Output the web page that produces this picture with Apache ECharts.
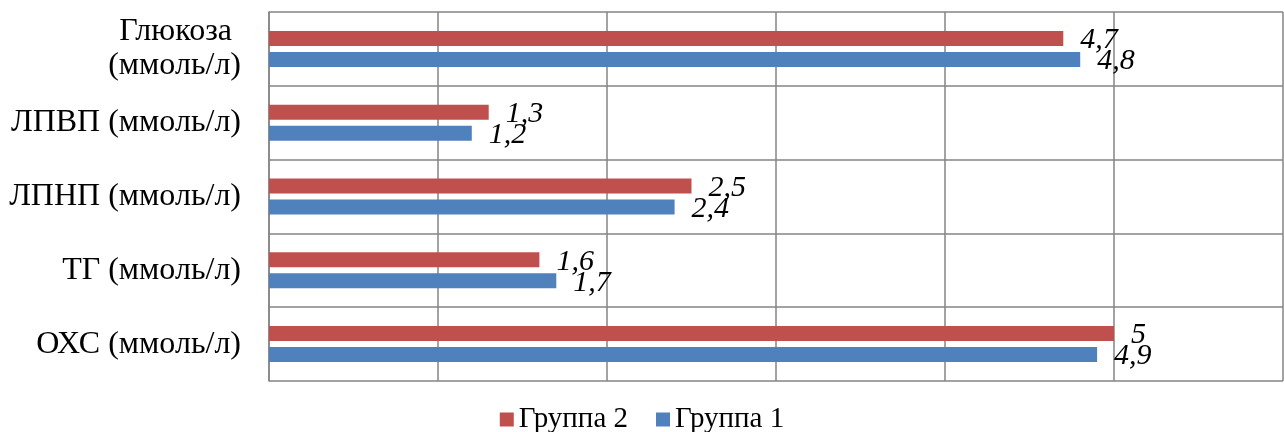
<!DOCTYPE html>
<html>
<head>
<meta charset="utf-8">
<script src="https://cdn.jsdelivr.net/npm/echarts@6/dist/echarts.min.js"></script>
<style>
  html, body { margin: 0; padding: 0; background: #ffffff; }
  #chart { width: 1284px; height: 432px; }
</style>
</head>
<body>
<div id="chart"></div>
<script>
// Categories listed bottom-to-top along the vertical axis
const categories = ['ОХС (ммоль/л)', 'ТГ (ммоль/л)', 'ЛПНП (ммоль/л)', 'ЛПВП (ммоль/л)', 'Глюкоза\n(ммоль/л)'];
const seriesNames = ['Группа 2', 'Группа 1'];
const group2 = [5, 1.6, 2.5, 1.3, 4.7];
const group1 = [4.9, 1.7, 2.4, 1.2, 4.8];
const xTicks = [0, 1, 2, 3, 4, 5, 6];

const FONT = '"Liberation Serif", "Times New Roman", serif';
const GRID_COLOR = '#858585';

const valueLabel = {
  show: true,
  position: 'right',
  distance: 17,
  offset: [0, 2],
  fontFamily: FONT,
  fontStyle: 'italic',
  fontSize: 30,
  color: '#000000',
  formatter: p => String(p.value).replace('.', ',')
};

const catFont = { fontFamily: FONT, fontSize: 32, color: '#000000', lineHeight: 34 };

const chart = echarts.init(document.getElementById('chart'), null, { renderer: 'canvas' });
chart.setOption({
  animation: false,
  backgroundColor: '#ffffff',
  grid: { left: 269, top: 12, right: 1, bottom: 51, containLabel: false },
  legend: {
    data: seriesNames,
    top: 400,
    left: 'center',
    icon: 'rect',
    itemWidth: 14,
    itemHeight: 14,
    itemGap: 28,
    textStyle: { fontFamily: FONT, fontSize: 29, color: '#000000' }
  },
  xAxis: {
    type: 'value',
    min: xTicks[0],
    max: xTicks[xTicks.length - 1],
    interval: 1,
    axisLabel: { show: false },
    axisTick: { show: false },
    axisLine: { show: false },
    splitLine: { show: true, lineStyle: { color: GRID_COLOR, width: 1.5 } }
  },
  yAxis: {
    type: 'category',
    data: categories,
    axisTick: { show: false },
    axisLine: { show: true, lineStyle: { color: GRID_COLOR, width: 1.5 } },
    splitLine: { show: true, lineStyle: { color: GRID_COLOR, width: 1.5 } },
    axisLabel: Object.assign({
      margin: 28,
      formatter: v => v.startsWith('Глюкоза') ? '{g|Глюкоза}\n{n|(ммоль/л)}' : v,
      rich: {
        g: Object.assign({ padding: [0, 9, 0, 0] }, catFont),
        n: Object.assign({}, catFont)
      }
    }, catFont)
  },
  series: [
    {
      name: seriesNames[0],
      type: 'bar',
      data: group2,
      barWidth: 15,
      barGap: '40%',
      itemStyle: { color: '#c0504d' },
      label: valueLabel
    },
    {
      name: seriesNames[1],
      type: 'bar',
      data: group1,
      barWidth: 15,
      barGap: '40%',
      itemStyle: { color: '#4f81bd' },
      label: valueLabel
    }
  ]
});
</script>
</body>
</html>
